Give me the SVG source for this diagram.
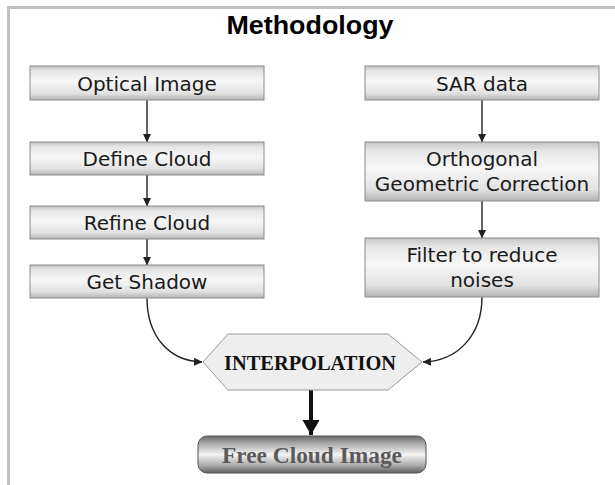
<svg xmlns="http://www.w3.org/2000/svg" width="615" height="485" viewBox="0 0 615 485">
<style>
.box{fill:url(#metal);stroke:#8a8a8a;stroke-width:1}
.lbl{font-family:"DejaVu Sans",Verdana,sans-serif;font-size:20px;fill:#1a1a1a;text-anchor:middle}
.con{fill:none;stroke:#222;stroke-width:1.4}
</style>
<defs>
<linearGradient id="metal" x1="0" y1="0" x2="0" y2="1">
<stop offset="0" stop-color="#c4c4c4"/>
<stop offset="0.15" stop-color="#e6e6e6"/>
<stop offset="0.45" stop-color="#f7f7f7"/>
<stop offset="0.8" stop-color="#e2e2e2"/>
<stop offset="1" stop-color="#b4b4b4"/>
</linearGradient>
<linearGradient id="dark" x1="0" y1="0" x2="0" y2="1">
<stop offset="0" stop-color="#6a6a6a"/>
<stop offset="0.2" stop-color="#a8a8a8"/>
<stop offset="0.5" stop-color="#f4f4f4"/>
<stop offset="0.8" stop-color="#a8a8a8"/>
<stop offset="1" stop-color="#5e5e5e"/>
</linearGradient>
<marker id="ah" markerWidth="9" markerHeight="9" refX="8" refY="4.5" orient="auto" markerUnits="userSpaceOnUse">
<path d="M0,0.5 L8.5,4.5 L0,8.5 Z" fill="#222"/>
</marker>
<marker id="ahb" markerWidth="18" markerHeight="18" refX="15" refY="8.5" orient="auto" markerUnits="userSpaceOnUse">
<path d="M0,0 L15,8.5 L0,17 Z" fill="#111"/>
</marker>
</defs>
<rect width="615" height="485" fill="#fff"/>
<rect x="7" y="6" width="608" height="3" fill="#c0c0c0"/>
<rect x="7" y="6" width="3" height="479" fill="#c0c0c0"/>
<text x="310" y="34" font-family="Liberation Sans,Arial,sans-serif" font-weight="bold" font-size="26" text-anchor="middle" textLength="167" lengthAdjust="spacingAndGlyphs" fill="#000">Methodology</text>

<g id="connectors">
<line class="con" x1="147" y1="100" x2="147" y2="142" marker-end="url(#ah)"/>
<line class="con" x1="147" y1="175" x2="147" y2="206" marker-end="url(#ah)"/>
<line class="con" x1="147" y1="239" x2="147" y2="265" marker-end="url(#ah)"/>
<line class="con" x1="482" y1="100" x2="482" y2="142" marker-end="url(#ah)"/>
<line class="con" x1="482" y1="201" x2="482" y2="238" marker-end="url(#ah)"/>
<path class="con" d="M147,298 C147,335 168,361 202,362" marker-end="url(#ah)"/>
<path class="con" d="M482,297 C482,335 458,361 423,362" marker-end="url(#ah)"/>
<line x1="311" y1="390" x2="311" y2="435" stroke="#111" stroke-width="4" marker-end="url(#ahb)"/>
</g>

<g id="optical">
<rect class="box" x="30" y="66" width="234" height="34"/>
<text class="lbl" x="147" y="91">Optical Image</text>
</g>
<g id="define">
<rect class="box" x="30" y="142" width="234" height="33"/>
<text class="lbl" x="147" y="166">Define Cloud</text>
</g>
<g id="refine">
<rect class="box" x="30" y="206" width="234" height="33"/>
<text class="lbl" x="147" y="230">Refine Cloud</text>
</g>
<g id="shadow">
<rect class="box" x="30" y="265" width="234" height="33"/>
<text class="lbl" x="147" y="289">Get Shadow</text>
</g>
<g id="sar">
<rect class="box" x="365" y="66" width="234" height="34"/>
<text class="lbl" x="482" y="91">SAR data</text>
</g>
<g id="ortho">
<rect class="box" x="365" y="142" width="234" height="59"/>
<text class="lbl" x="482" y="166">Orthogonal</text>
<text class="lbl" x="482" y="191">Geometric Correction</text>
</g>
<g id="filter">
<rect class="box" x="365" y="238" width="234" height="59"/>
<text class="lbl" x="482" y="262">Filter to reduce</text>
<text class="lbl" x="482" y="287">noises</text>
</g>
<g id="interpolation">
<polygon points="203,362 228,334 388,334 422,362 388,390 228,390" fill="#eeeeee" stroke="#999" stroke-width="1"/>
<text x="310" y="370" font-family="Liberation Serif,Times New Roman,serif" font-weight="bold" font-size="22" text-anchor="middle" textLength="172" lengthAdjust="spacingAndGlyphs" fill="#111">INTERPOLATION</text>
</g>
<g id="free">
<rect x="198" y="436" width="228" height="37" rx="9" ry="9" fill="url(#dark)" stroke="#555" stroke-width="1"/>
<text x="312" y="463" font-family="Liberation Serif,Times New Roman,serif" font-weight="bold" font-size="24" text-anchor="middle" textLength="180" lengthAdjust="spacingAndGlyphs" fill="#5a5a5a">Free Cloud Image</text>
</g>
</svg>
